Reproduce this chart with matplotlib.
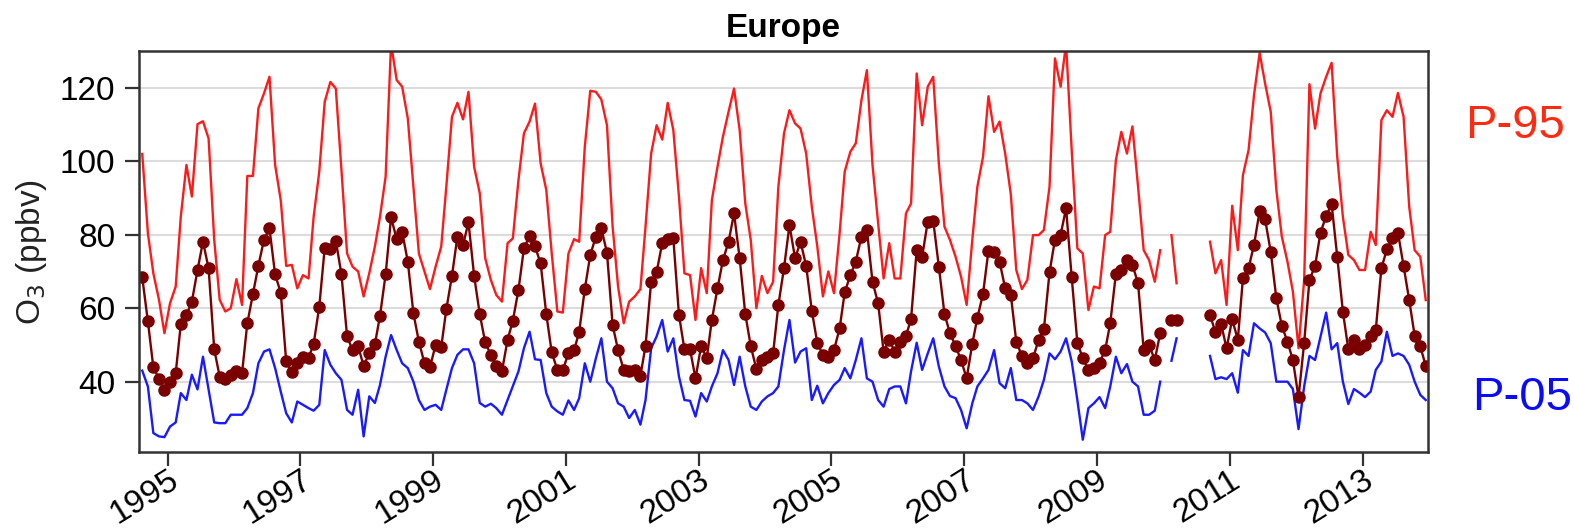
import numpy as np
import pandas as pd
import matplotlib
matplotlib.use('Agg')
import matplotlib.pyplot as plt

plt.rcParams['font.family'] = ['Liberation Sans', 'DejaVu Sans']

nan = np.nan

# monthly values, Aug 1994 .. Dec 2013 (ppbv)
p95 = [102.0, 80.4, 69.5, 62.3, 53.2,
       61.4, 65.9, 84.9, 99.0, 90.4, 110.1, 110.9, 106.2, 78.6, 62.3, 59.1, 60.0,
       67.9, 60.9, 96.0, 96.0, 114.4, 118.5, 123.0, 99.0, 89.4, 71.5, 71.8, 65.4,
       69.0, 68.1, 84.9, 97.2, 116.2, 121.6, 119.8, 97.6, 74.9, 71.3, 70.0, 63.2,
       69.5, 76.8, 84.9, 95.8, 132.0, 122.1, 120.3, 111.7, 93.1, 74.9, 70.0, 65.2,
       71.3, 76.8, 93.1, 112.1, 115.9, 111.4, 118.9, 98.5, 91.3, 73.6, 67.7, 63.6,
       61.8, 77.7, 79.0, 94.9, 107.6, 110.8, 115.7, 99.4, 92.2, 74.9, 59.1, 58.8,
       74.9, 78.8, 78.1, 104.0, 119.2, 118.9, 116.8, 109.8, 82.2, 65.9, 55.9, 61.8,
       63.2, 65.2, 82.2, 102.1, 109.8, 105.9, 115.9, 108.5, 90.4, 69.5, 69.0, 56.8,
       70.9, 64.1, 89.4, 98.5, 106.7, 113.5, 119.8, 108.5, 88.5, 78.6, 60.0, 68.8,
       64.1, 67.2, 93.1, 107.6, 113.9, 110.3, 108.9, 102.1, 87.6, 76.9, 63.2, 70.0,
       64.1, 80.4, 97.2, 102.6, 104.9, 116.6, 124.8, 99.0, 83.1, 68.1, 77.7, 68.1,
       68.1, 85.8, 88.5, 123.9, 109.8, 120.3, 123.0, 99.4, 82.2, 78.6, 74.0, 68.6,
       60.9, 78.6, 93.1, 101.2, 117.7, 108.0, 110.8, 102.1, 91.0, 70.4, 65.2, 67.7,
       79.9, 79.9, 81.3, 93.1, 128.0, 120.3, 132.0, 103.0, 76.3, 74.9, 59.5, 65.9,
       65.4, 79.9, 80.8, 100.3, 108.0, 102.1, 109.5, 93.1, 75.8, 73.1, 67.2, 75.8,
       nan, 79.9, 66.8, nan, nan, nan, nan, nan, 78.1, 69.5, 73.1, 60.9,
       87.9, 75.8, 96.2, 103.0, 118.0, 129.5, 121.2, 113.5, 92.2, 79.5, 72.7, 64.5,
       49.1, 67.7, 121.0, 108.9, 118.5, 123.0, 126.8, 101.2, 84.9, 74.5, 73.1, 70.4,
       70.4, 80.8, 77.2, 111.2, 113.9, 112.1, 118.6, 112.1, 87.6, 75.8, 74.0, 62.2]

median = [68.4, 56.4, 43.9, 40.8, 37.6,
          39.9, 42.3, 55.6, 58.2, 61.8, 70.4, 78.1, 70.9, 48.8, 41.4, 40.7, 41.9,
          42.8, 42.3, 55.9, 63.9, 71.6, 78.7, 81.7, 69.2, 64.2, 45.5, 42.6, 45.0,
          46.8, 46.4, 50.3, 60.4, 76.5, 76.1, 78.4, 69.2, 52.3, 48.6, 49.6, 44.3,
          47.7, 50.2, 57.9, 69.2, 84.7, 78.8, 80.8, 72.7, 58.6, 50.9, 45.0, 43.9,
          50.0, 49.4, 59.7, 68.8, 79.5, 77.2, 83.4, 68.8, 58.4, 50.7, 47.3, 44.3,
          42.8, 51.4, 56.6, 65.0, 76.3, 79.7, 76.8, 72.2, 58.4, 48.0, 43.2, 43.2,
          47.7, 48.5, 53.6, 65.2, 74.5, 79.5, 81.7, 75.1, 55.4, 48.6, 43.2, 42.8,
          43.2, 41.6, 49.7, 67.2, 69.8, 77.7, 78.8, 79.0, 58.2, 48.8, 48.8, 40.9,
          49.7, 46.4, 56.8, 65.4, 73.1, 78.1, 85.8, 73.6, 58.4, 49.7, 43.4, 45.9,
          46.8, 47.7, 60.9, 70.9, 82.6, 73.6, 78.1, 71.5, 59.3, 50.6, 47.3, 46.8,
          48.6, 54.5, 64.3, 69.0, 72.7, 79.5, 81.3, 67.2, 61.3, 48.2, 51.4, 48.2,
          50.9, 52.5, 57.0, 75.8, 74.0, 83.6, 83.8, 71.3, 58.4, 53.2, 49.7, 45.9,
          40.9, 50.3, 57.4, 63.9, 75.7, 75.4, 72.7, 65.4, 63.6, 50.9, 47.0, 45.0,
          46.4, 51.4, 54.3, 69.8, 78.7, 80.0, 87.2, 68.4, 50.6, 46.4, 43.2, 43.7,
          45.2, 48.6, 55.9, 69.3, 70.4, 73.1, 71.8, 66.8, 48.6, 50.0, 45.9, 53.2,
          nan, 56.8, 56.8, nan, nan, nan, nan, nan, 58.2, 53.4, 55.7, 49.1,
          57.0, 51.4, 68.1, 70.9, 77.2, 86.5, 84.2, 75.4, 62.7, 55.2, 50.9, 45.9,
          35.7, 50.6, 67.7, 71.5, 80.6, 85.1, 88.4, 74.0, 59.1, 48.8, 51.4, 48.8,
          50.0, 52.5, 54.1, 70.9, 76.0, 79.0, 80.6, 71.5, 62.2, 52.5, 49.6, 44.3]

p05 = [43.0, 38.7, 26.0, 25.1, 24.9,
       27.8, 28.9, 36.9, 35.0, 41.9, 37.9, 46.8, 37.8, 28.9, 28.7, 28.7, 31.0,
       31.0, 31.0, 32.8, 36.9, 45.0, 48.2, 48.8, 43.7, 37.3, 31.4, 28.9, 34.6,
       33.7, 32.8, 32.1, 33.7, 48.6, 44.6, 42.3, 40.5, 32.3, 31.0, 37.8, 25.1,
       36.0, 34.2, 39.1, 46.8, 52.7, 48.6, 45.0, 43.7, 40.0, 35.0, 32.3, 33.2,
       33.7, 32.3, 37.8, 43.7, 47.3, 48.8, 48.8, 45.0, 34.2, 33.2, 34.0, 32.8,
       31.0, 35.0, 38.7, 42.8, 49.1, 53.6, 46.1, 45.9, 36.9, 33.2, 31.9, 31.0,
       34.9, 32.3, 35.5, 45.0, 40.0, 46.4, 51.8, 40.0, 38.2, 34.1, 33.2, 30.1,
       32.3, 28.3, 35.0, 49.1, 52.3, 56.8, 48.2, 51.8, 41.4, 35.0, 34.8, 30.5,
       36.9, 34.6, 38.7, 42.3, 48.6, 45.9, 39.1, 46.8, 38.7, 33.2, 32.3, 34.6,
       36.0, 36.9, 38.7, 48.6, 56.8, 45.2, 48.2, 49.1, 35.0, 38.9, 34.1, 36.9,
       39.1, 40.5, 43.7, 40.9, 45.9, 51.8, 40.9, 40.0, 35.0, 33.2, 38.0, 38.7,
       38.7, 34.1, 42.8, 50.6, 43.2, 47.7, 51.8, 44.1, 38.7, 36.1, 35.5, 32.3,
       27.3, 34.1, 38.7, 40.9, 43.2, 48.6, 39.6, 38.2, 43.7, 35.0, 35.0, 34.1,
       32.3, 36.0, 40.5, 47.7, 46.1, 48.2, 51.8, 45.5, 35.0, 24.2, 32.8, 34.1,
       35.8, 32.8, 38.7, 46.8, 42.3, 44.8, 40.0, 38.7, 31.0, 31.0, 32.1, 40.0,
       nan, 45.7, 51.8, nan, nan, nan, nan, nan, 47.0, 40.7, 41.2, 40.7,
       42.3, 37.0, 48.6, 47.0, 55.9, 54.5, 53.4, 50.5, 40.0, 40.0, 40.0, 38.0,
       27.1, 38.7, 47.0, 45.9, 52.3, 58.8, 48.8, 50.5, 40.0, 33.9, 38.0, 37.0,
       35.8, 37.3, 43.2, 45.5, 53.6, 47.0, 47.7, 47.0, 44.6, 40.0, 36.4, 35.0]

months = pd.date_range('1994-08-01', '2013-12-01', freq='MS') + pd.Timedelta(days=14)
tick_years = list(range(1995, 2014, 2))

fig = plt.figure(figsize=(15.74, 5.32), dpi=100)
ax = fig.add_axes([0.0883, 0.150, 0.8189, 0.754])

ax.plot(months, p95, color='#ff1a1a', lw=1.7)
ax.plot(months, p05, color='#1a1aff', lw=1.7)
ax.plot(months, median, color='#7a0000', lw=1.7, marker='o', ms=8,
        markerfacecolor='#7a0000', markeredgecolor='#7a0000')

ax.set_xlim(pd.Timestamp('1994-07-28'), pd.Timestamp('2013-12-27'))
ax.set_ylim(20.8, 130)
ax.set_yticks([40, 60, 80, 100, 120])
ax.yaxis.grid(True, color='#dcdcdc', lw=1.5)
ax.set_axisbelow(True)

ax.set_xticks([pd.Timestamp('%d-01-01' % y) for y in tick_years])
ax.set_xticklabels([str(y) for y in tick_years], rotation=32, ha='right',
                   va='top', rotation_mode='anchor')
ax.tick_params(axis='both', direction='out', length=10, width=1.6,
               color='#333333')
ax.tick_params(axis='y', pad=7, labelsize=24)
ax.tick_params(axis='x', pad=-1, labelsize=24)

for s in ax.spines.values():
    s.set_linewidth(1.8)
    s.set_color('#333333')

ax.set_ylabel('O$_3$ (ppbv)', fontsize=24, color='#222222', labelpad=8)
ax.set_title('Europe', fontsize=24, fontweight='bold', pad=10)

fig.text(0.931, 0.763, 'P-95', color='#ff2a10', fontsize=34, ha='left', va='center')
fig.text(0.935, 0.252, 'P-05', color='#0a0aff', fontsize=34, ha='left', va='center')

fig.savefig('out.png', dpi=100)
